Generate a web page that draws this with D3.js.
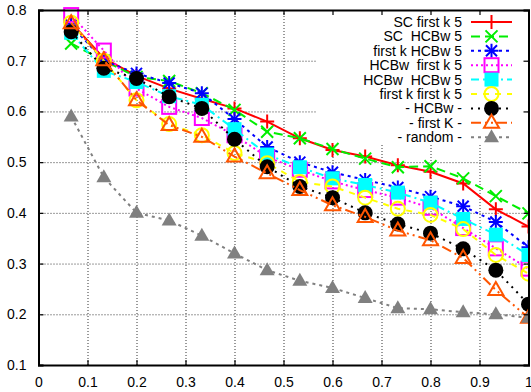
<!DOCTYPE html>
<html>
<head>
<meta charset="utf-8">
<script src="https://cdn.jsdelivr.net/npm/d3@7"></script>
<style>
  body { margin: 0; background: #fff; }
  svg { display: block; font-family: "Liberation Sans", Arial, sans-serif; }
</style>
</head>
<body>
<svg id="chart" width="531" height="392"></svg>
<script>
// x positions: 1/15 .. 15/15
var xs = d3.range(1, 16).map(function(i) { return i / 15; });

var scFirstK   = [0.775, 0.705, 0.670, 0.645, 0.625, 0.606, 0.580, 0.547, 0.524, 0.511, 0.494, 0.481, 0.458, 0.407, 0.373];
var scHCBw     = [0.734, 0.700, 0.668, 0.660, 0.636, 0.603, 0.560, 0.547, 0.526, 0.507, 0.490, 0.492, 0.468, 0.433, 0.399];
var fkHCBw     = [0.770, 0.700, 0.675, 0.656, 0.636, 0.585, 0.530, 0.500, 0.480, 0.465, 0.450, 0.432, 0.413, 0.382, 0.332];
var hcbwFirstK = [0.790, 0.720, 0.645, 0.609, 0.587, 0.553, 0.510, 0.485, 0.462, 0.445, 0.430, 0.410, 0.370, 0.330, 0.290];
var hcbwHCBw   = [0.755, 0.680, 0.658, 0.630, 0.613, 0.565, 0.515, 0.490, 0.468, 0.455, 0.440, 0.420, 0.388, 0.357, 0.317];
var fkFirstK   = [0.775, 0.700, 0.622, 0.575, 0.553, 0.518, 0.498, 0.461, 0.452, 0.430, 0.408, 0.396, 0.368, 0.317, 0.280];
var hcbwOnly   = [0.757, 0.685, 0.665, 0.629, 0.606, 0.545, 0.491, 0.452, 0.430, 0.400, 0.378, 0.360, 0.329, 0.287, 0.220];
var firstKOnly = [0.774, 0.701, 0.622, 0.573, 0.550, 0.511, 0.478, 0.445, 0.415, 0.392, 0.365, 0.346, 0.311, 0.248, 0.193];
var randomSel  = [0.590, 0.470, 0.400, 0.385, 0.355, 0.320, 0.287, 0.266, 0.252, 0.232, 0.212, 0.210, 0.204, 0.200, 0.193];

var names = ["SC first k 5", "SC  HCBw 5", "first k HCBw 5", "HCBw  first k 5", "HCBw  HCBw 5",
             "first k first k 5", "- HCBw -", "- first K -", "- random -"];
var colors = ["#ff0000", "#00ee00", "#0000ff", "#ff00ff", "#00ffff", "#ffff00", "#000000", "#ff5500", "#808080"];
var dashes = ["none", "9,5", "3,4", "2,3", "8,4,2,4", "6,6", "2,5", "10,4,2,4,2,4", "3,4"];
var markers = ["plus", "cross", "star", "square", "fsquare", "circle", "fcircle", "triangle", "ftriangle"];
var allValues = [scFirstK, scHCBw, fkHCBw, hcbwFirstK, hcbwHCBw, fkFirstK, hcbwOnly, firstKOnly, randomSel];

var xTicks = d3.range(0, 11).map(function(i) { return i / 10; });
var yTicks = d3.range(1, 9).map(function(i) { return i / 10; });

var pLeft = 38.5, pRight = 528.5, pTop = 10, pBottom = 365;

var svg = d3.select("#chart");

var x = d3.scaleLinear().domain([0, 1]).range([pLeft, pRight]);
var y = d3.scaleLinear().domain([0.1, 0.8]).range([pBottom, pTop]);

// grid
svg.append("g")
	.attr("transform", "translate(0," + pBottom + ")")
	.call(d3.axisBottom(x).tickValues(xTicks.slice(1, 10)).tickSize(-(pBottom - pTop)).tickFormat(""))
	.call(function(g) { g.select(".domain").remove(); })
	.selectAll("line")
		.attr("stroke", "#000")
		.attr("stroke-width", 0.8)
		.attr("stroke-dasharray", "1,2");

svg.append("g")
	.attr("transform", "translate(" + pLeft + ",0)")
	.call(d3.axisLeft(y).tickValues(yTicks.slice(1, 7)).tickSize(-(pRight - pLeft)).tickFormat(""))
	.call(function(g) { g.select(".domain").remove(); })
	.selectAll("line")
		.attr("stroke", "#000")
		.attr("stroke-width", 0.8)
		.attr("stroke-dasharray", "1,2");

// opaque key area
svg.append("rect")
	.attr("x", 316).attr("y", pTop + 1)
	.attr("width", pRight - 317).attr("height", 134)
	.attr("fill", "#fff");

// marker drawing
function drawMarker(g, type, color, cx, cy) {
	var s = 7;
	if (type == "plus" || type == "star") {
		g.append("path").attr("d", "M" + (cx - s) + "," + cy + "h" + 2 * s + "M" + cx + "," + (cy - s) + "v" + 2 * s)
			.attr("stroke", color).attr("stroke-width", 2).attr("fill", "none");
	}
	if (type == "cross" || type == "star") {
		var c = type == "star" ? 5.5 : 6;
		g.append("path").attr("d", "M" + (cx - c) + "," + (cy - c) + "l" + 2 * c + "," + 2 * c + "M" + (cx - c) + "," + (cy + c) + "l" + 2 * c + "," + (-2 * c))
			.attr("stroke", color).attr("stroke-width", 2).attr("fill", "none");
	}
	if (type == "square" || type == "fsquare") {
		g.append("rect").attr("x", cx - 7).attr("y", cy - 7).attr("width", 14).attr("height", 14)
			.attr("fill", type == "fsquare" ? color : "none")
			.attr("stroke", type == "fsquare" ? "none" : color).attr("stroke-width", 2);
	}
	if (type == "circle" || type == "fcircle") {
		g.append("circle").attr("cx", cx).attr("cy", cy).attr("r", type == "fcircle" ? 7.5 : 7)
			.attr("fill", type == "fcircle" ? color : "none")
			.attr("stroke", type == "fcircle" ? "none" : color).attr("stroke-width", 2);
	}
	if (type == "triangle" || type == "ftriangle") {
		g.append("path").attr("d", "M" + cx + "," + (cy - 8) + "L" + (cx + 7.5) + "," + (cy + 5) + "L" + (cx - 7.5) + "," + (cy + 5) + "Z")
			.attr("fill", type == "ftriangle" ? color : "none")
			.attr("stroke", type == "ftriangle" ? "none" : color).attr("stroke-width", 2);
	}
}

var line = d3.line()
	.x(function(d) { return x(d[0]); })
	.y(function(d) { return y(d[1]); });

var plot = svg.append("g");

allValues.forEach(function(vals, k) {
	var pts = xs.map(function(v, i) { return [v, vals[i]]; });
	var g = plot.append("g");
	g.append("path")
		.datum(pts)
		.attr("d", line)
		.attr("fill", "none")
		.attr("stroke", colors[k])
		.attr("stroke-width", 2)
		.attr("stroke-dasharray", dashes[k]);
	pts.forEach(function(p) {
		drawMarker(g, markers[k], colors[k], x(p[0]), y(p[1]));
	});
});

// white out anything beyond the right border
svg.append("rect").attr("x", pRight + 1).attr("y", 0).attr("width", 10).attr("height", 392).attr("fill", "#fff");

// legend
var legend = svg.append("g").attr("font-size", 14);
names.forEach(function(name, k) {
	var ly = 22 + k * 14.4;
	legend.append("text")
		.attr("x", 462).attr("y", ly + 5)
		.attr("text-anchor", "end")
		.style("white-space", "pre")
		.text(name);
	legend.append("line")
		.attr("x1", 471).attr("x2", 512).attr("y1", ly).attr("y2", ly)
		.attr("stroke", colors[k]).attr("stroke-width", 2)
		.attr("stroke-dasharray", dashes[k]);
	drawMarker(legend, markers[k], colors[k], 491.5, ly);
});

// border with inward ticks
var fmtX = function(d) { return d == 0 ? "0" : d == 1 ? "1" : d3.format(".1f")(d); };

var axB = svg.append("g").attr("transform", "translate(0," + pBottom + ")")
	.call(d3.axisBottom(x).tickValues(xTicks).tickSize(-5).tickPadding(12).tickFormat(fmtX));
var axT = svg.append("g").attr("transform", "translate(0," + pTop + ")")
	.call(d3.axisTop(x).tickValues(xTicks).tickSize(-5).tickFormat(""));
var axL = svg.append("g").attr("transform", "translate(" + pLeft + ",0)")
	.call(d3.axisLeft(y).tickValues(yTicks).tickSize(-5).tickPadding(12).tickFormat(d3.format(".1f")));
var axR = svg.append("g").attr("transform", "translate(" + pRight + ",0)")
	.call(d3.axisRight(y).tickValues(yTicks).tickSize(-5).tickFormat(""));

[axB, axT, axL, axR].forEach(function(a) {
	a.select(".domain").attr("stroke", "#000").attr("stroke-width", 2);
	a.selectAll(".tick line").attr("stroke", "#000").attr("stroke-width", 1.2);
	a.selectAll("text").attr("font-size", 14).attr("fill", "#000")
		.attr("font-family", "Liberation Sans, Arial, sans-serif");
});
</script>
</body>
</html>
